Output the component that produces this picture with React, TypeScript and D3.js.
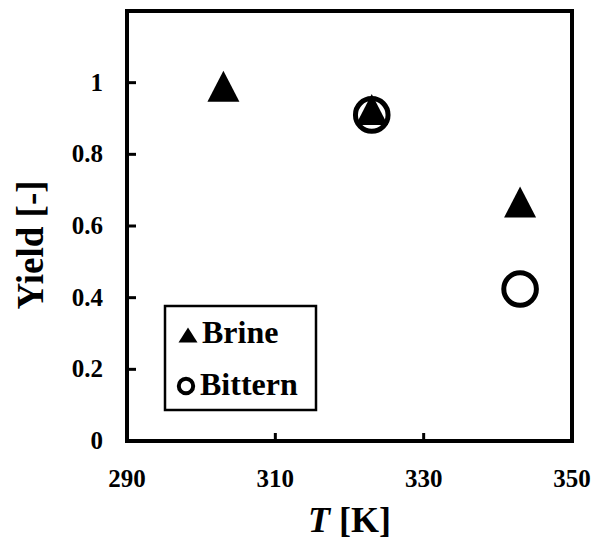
import React from "react";
import * as d3 from "d3";

const temps = [303, 323, 343];
const brine = [0.99, 0.925, 0.667];
const bitternTemps = [323, 343];
const bittern = [0.91, 0.424];
const xTicks = [290, 310, 330, 350];
const yTicks = [0, 0.2, 0.4, 0.6, 0.8, 1];

const W = 594;
const H = 540;
const margin = { top: 11, right: 22, bottom: 99, left: 127 };
const font = "'Liberation Serif', 'Times New Roman', serif";

// triangle marker as tall as it is wide (like the Excel one), centred on its box
const triType = (w: number, h: number) => ({
  draw(ctx: any) {
    ctx.moveTo(0, -h / 2);
    ctx.lineTo(w / 2, h / 2);
    ctx.lineTo(-w / 2, h / 2);
    ctx.closePath();
  },
});

export default function App() {
  const x = d3
    .scaleLinear()
    .domain([290, 350])
    .range([margin.left, W - margin.right]);
  const y = d3
    .scaleLinear()
    .domain([0, 1.2])
    .range([H - margin.bottom, margin.top]);

  const tri = d3.symbol().type(triType(32, 31))() as string;
  const triSmall = d3.symbol().type(triType(19, 15))() as string;

  const [x0, x1] = x.range();
  const [y0, y1] = y.range();

  return (
    <svg
      width={W}
      height={H}
      style={{ position: "absolute", left: 0, top: 0, background: "#fff" }}
      fontFamily={font}
      fontWeight="bold"
    >
      <rect x={0} y={0} width={W} height={H} fill="#fff" />

      {/* ticks point inward */}
      {yTicks.map((t) => (
        <line key={"yt" + t} x1={x0} x2={x0 + 9} y1={y(t)} y2={y(t)} stroke="#000" strokeWidth={3} />
      ))}
      {xTicks.map((t) => (
        <line key={"xt" + t} x1={x(t)} x2={x(t)} y1={y0} y2={y0 - 8} stroke="#000" strokeWidth={3} />
      ))}

      <rect
        x={x0}
        y={y1}
        width={x1 - x0}
        height={y0 - y1}
        fill="none"
        stroke="#000"
        strokeWidth={4}
      />

      {yTicks.map((t) => (
        <text key={"yl" + t} x={103} y={y(t) + 8} textAnchor="end" fontSize={25}>
          {t}
        </text>
      ))}
      {xTicks.map((t) => (
        <text key={"xl" + t} x={x(t)} y={487} textAnchor="middle" fontSize={25}>
          {t}
        </text>
      ))}

      <text x={(x0 + x1) / 2} y={532} textAnchor="middle" fontSize={36}>
        <tspan fontStyle="italic">T</tspan> [K]
      </text>
      <text transform="translate(43, 245) rotate(-90)" textAnchor="middle" fontSize={37}>
        Yield [-]
      </text>

      {bittern.map((v, i) => (
        <circle
          key={"bt" + i}
          cx={x(bitternTemps[i])}
          cy={y(v)}
          r={16.3}
          fill="#fff"
          stroke="#000"
          strokeWidth={5}
        />
      ))}
      {brine.map((v, i) => (
        <path key={"br" + i} d={tri} transform={`translate(${x(temps[i])}, ${y(v)})`} fill="#000" />
      ))}

      {/* legend */}
      <rect x={165} y={306} width={151} height={104} fill="#fff" stroke="#000" strokeWidth={2.5} />
      <path d={triSmall} transform="translate(188, 335)" fill="#000" />
      <text x={202} y={343} fontSize={32}>
        Brine
      </text>
      <circle cx={186} cy={386} r={7.2} fill="#fff" stroke="#000" strokeWidth={4} />
      <text x={200} y={395} fontSize={32}>
        Bittern
      </text>
    </svg>
  );
}
